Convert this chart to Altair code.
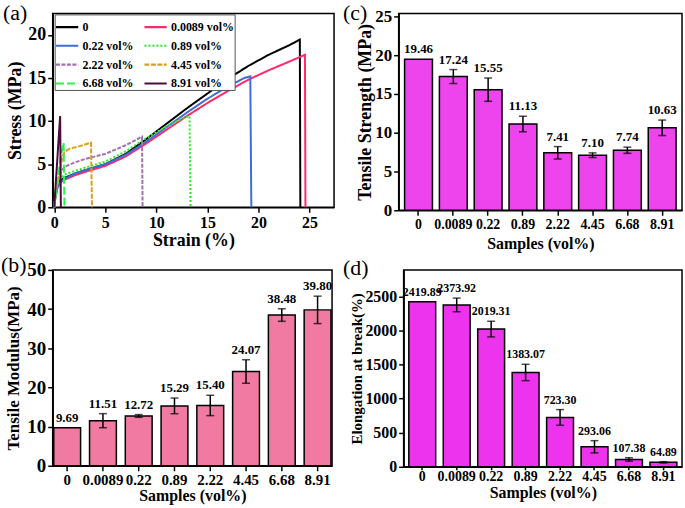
import altair as alt
import pandas as pd

FONT = "Liberation Serif"

# ---------------- (a) stress-strain curves ----------------
series_names = ["0", "0.0089 vol%", "0.22 vol%", "0.89 vol%",
                "2.22 vol%", "4.45 vol%", "6.68 vol%", "8.91 vol%"]
series_colors = ["#000000", "#ff2a6a", "#3b6fd6", "#22ee22",
                 "#a070b0", "#d6a21e", "#33ee55", "#4a0c38"]
series_dash = [[1, 0], [1, 0], [1, 0], [2, 2], [4, 1.5], [5, 1.5], [8, 3], [1, 0]]

strain_0 = [0, 0.1, 0.3, 0.6, 1.0, 2, 3, 5, 7, 9, 11, 13, 15, 17, 19, 21, 23, 24.05, 24.1]
stress_0 = [0, 1.2, 2.5, 3.1, 3.4, 3.9, 4.3, 5.0, 6.2, 7.9, 9.7, 11.5, 13.2, 14.9, 16.4, 17.7, 18.8, 19.46, 0]
strain_1 = [0, 0.1, 0.3, 0.6, 1.0, 2, 3, 5, 7, 9, 11, 13, 15, 17, 19, 21, 23, 24.55, 24.6]
stress_1 = [0, 1.1, 2.3, 2.9, 3.2, 3.7, 4.1, 4.8, 5.9, 7.4, 9.0, 10.6, 12.1, 13.5, 14.8, 15.9, 16.9, 17.7, 0]
strain_2 = [0, 0.1, 0.3, 0.6, 1.0, 2, 3, 5, 7, 9, 11, 13, 15, 17, 18.6, 19.2, 19.3]
stress_2 = [0, 1.0, 2.2, 2.9, 3.3, 3.9, 4.3, 5.0, 6.1, 7.6, 9.3, 11.0, 12.6, 14.0, 15.0, 15.2, 0]
strain_3 = [0, 0.1, 0.3, 0.6, 1.0, 2, 3, 5, 7, 9, 11, 12.5, 13.25, 13.35]
stress_3 = [0, 1.3, 2.6, 3.4, 3.8, 4.2, 4.6, 5.3, 6.5, 8.0, 9.4, 10.3, 10.6, 0]
strain_4 = [0, 0.1, 0.3, 0.6, 1.0, 2, 3, 5, 7, 8.6, 8.65]
stress_4 = [0, 1.5, 3.0, 4.0, 4.7, 5.2, 5.6, 6.2, 7.2, 8.2, 0]
strain_5 = [0, 0.2, 0.5, 0.8, 1.0, 1.5, 2.5, 3.6, 3.7]
stress_5 = [0, 2.0, 4.0, 5.8, 6.4, 6.8, 7.1, 7.5, 0]
strain_6 = [0, 0.2, 0.4, 0.6, 0.8, 0.92, 1.0]
stress_6 = [0, 2.0, 3.8, 5.5, 6.9, 7.5, 0]
strain_7 = [0, 0.15, 0.3, 0.45, 0.58, 0.65]
stress_7 = [0, 2.8, 5.5, 8.3, 10.6, 0]

strains = [strain_0, strain_1, strain_2, strain_3, strain_4, strain_5, strain_6, strain_7]
stresses = [stress_0, stress_1, stress_2, stress_3, stress_4, stress_5, stress_6, stress_7]

# ---------------- bar data ----------------
categories = ["0", "0.0089", "0.22", "0.89", "2.22", "4.45", "6.68", "8.91"]
modulus = [9.69, 11.51, 12.72, 15.29, 15.40, 24.07, 38.48, 39.80]
modulus_err = [0.0, 1.8, 0.35, 2.0, 2.6, 3.0, 1.6, 3.5]
strength = [19.46, 17.24, 15.55, 11.13, 7.41, 7.10, 7.74, 10.63]
strength_err = [0.0, 0.9, 1.5, 1.0, 0.8, 0.3, 0.4, 1.0]
elongation = [2419.89, 2373.92, 2019.31, 1383.07, 723.30, 293.06, 107.38, 64.89]
elongation_err = [0, 100, 115, 120, 115, 90, 25, 10]


def decor(label, lx, ly, L, R, T, B, w, h):
    """Invisible box that fixes the panel's layout bounds + the panel letter."""
    df = pd.DataFrame({"t": [label]})
    box = alt.Chart(df).mark_rule(opacity=0).encode(
        x=alt.value(-L), x2=alt.value(w + R), y=alt.value(-T), y2=alt.value(h + B))
    lab = alt.Chart(df).mark_text(align="left", baseline="top", fontSize=22,
                                  font=FONT, color="black").encode(
        x=alt.value(lx), y=alt.value(ly), text="t:N")
    return [box, lab]


# ---------------- build (a) ----------------
rows = []
for name, xs, ys in zip(series_names, strains, stresses):
    for i, (sx, sy) in enumerate(zip(xs, ys)):
        rows.append({"series": name, "strain": sx, "stress": sy, "idx": i})
line_df = pd.DataFrame(rows)

legend_kw = dict(
    title=None, orient="none", legendX=2, legendY=1, columns=2, direction="horizontal",
    symbolType="stroke", symbolSize=500, symbolStrokeWidth=2.2,
    labelFont=FONT, labelFontWeight="bold", labelFontSize=12, labelColor="black",
    labelLimit=200, rowPadding=-7.5, columnPadding=5, padding=0,
    strokeColor="#555555", fillColor="white", symbolOffset=0, labelOffset=3,
)

W_A, H_A = 283, 195
lines_a = alt.Chart(line_df).mark_line(strokeWidth=2).encode(
    x=alt.X("strain:Q",
            scale=alt.Scale(domain=[-0.15, 27.4], nice=False, zero=False),
            axis=alt.Axis(title="Strain (%)", values=[0, 5, 10, 15, 20, 25],
                          labelFontSize=16, titleFontSize=18, titlePadding=1)),
    y=alt.Y("stress:Q",
            scale=alt.Scale(domain=[0, 22.5], nice=False),
            axis=alt.Axis(title="Stress (MPa)", values=[0, 5, 10, 15, 20],
                          labelFontSize=18, titleFontSize=18, titlePadding=3.5)),
    color=alt.Color("series:N", scale=alt.Scale(domain=series_names, range=series_colors),
                    legend=alt.Legend(**legend_kw)),
    strokeDash=alt.StrokeDash("series:N", scale=alt.Scale(domain=series_names, range=series_dash),
                              legend=alt.Legend(**legend_kw)),
    order="idx:Q",
)
panel_a = alt.layer(lines_a, *decor("(a)", -50, -10, 52, 2, 10, 45, W_A, H_A)).properties(
    width=W_A, height=H_A)


def bar_panel(vals, errs, ytitle, ydom, yvals, fill, w, h, pin, pout,
              ylab, xlab, ytit, xtit, ytp, xtp, vsize, label, box,
              xlabpad=2, xtick=5, yfmt="d"):
    df = pd.DataFrame({"cat": categories, "v": vals, "e": errs})
    base = alt.Chart(df).transform_calculate(lo="datum.v - datum.e", hi="datum.v + datum.e")
    xenc = alt.X("cat:N", sort=categories,
                 scale=alt.Scale(paddingInner=pin, paddingOuter=pout),
                 axis=alt.Axis(title="Samples (vol%)", labelAngle=0, labelFontSize=xlab,
                               titleFontSize=xtit, titlePadding=xtp, labelPadding=xlabpad,
                               tickSize=xtick))
    yscale = alt.Scale(domain=ydom, nice=False)
    yaxis = alt.Axis(title=ytitle, values=yvals, labelFontSize=ylab, format=yfmt,
                     titleFontSize=ytit, titlePadding=ytp)
    bars = base.mark_bar(fill=fill, stroke="black", strokeWidth=1.5).encode(
        x=xenc, y=alt.Y("v:Q", scale=yscale, axis=yaxis, title=ytitle))
    eb = base.transform_filter("datum.e > 0")
    rule = eb.mark_rule(color="black", strokeWidth=1.5).encode(
        x=xenc, y=alt.Y("lo:Q", scale=yscale, axis=yaxis, title=ytitle), y2="hi:Q")
    t_hi = eb.mark_tick(color="black", thickness=1.5, size=8, orient="horizontal").encode(
        x=xenc, y=alt.Y("hi:Q", scale=yscale, axis=yaxis, title=ytitle))
    t_lo = eb.mark_tick(color="black", thickness=1.5, size=8, orient="horizontal").encode(
        x=xenc, y=alt.Y("lo:Q", scale=yscale, axis=yaxis, title=ytitle))
    txt = base.mark_text(baseline="bottom", dy=-3, fontSize=vsize, fontWeight="bold",
                         font=FONT, color="black").encode(
        x=xenc, y=alt.Y("hi:Q", scale=yscale, axis=yaxis, title=ytitle),
        text=alt.Text("v:Q", format=".2f"))
    lx, ly, L, R, T, B = box
    return alt.layer(bars, rule, t_hi, t_lo, txt,
                     *decor(label, lx, ly, L, R, T, B, w, h)).properties(width=w, height=h)


panel_b = bar_panel(modulus, modulus_err, "Tensile Modulus(MPa)", [0, 50], [0, 10, 20, 30, 40, 50],
                    "#f07aa2", 281, 197, 0.25, 0.03, 19, 15, 17, 16, 4, 0, 13, "(b)",
                    (-52, -15, 52, 2, 15, 46))
panel_c = bar_panel(strength, strength_err, "Tensile Strength (MPa)", [0, 25.38], [0, 5, 10, 15, 20, 25],
                    "#ee44ee", 285, 198, 0.2, 0.17, 17, 14, 18, 16, 0, 4.5, 13, "(c)",
                    (-56, -10, 61, 2, 10, 42))
panel_d = bar_panel(elongation, elongation_err, "Elongation at break(%)", [0, 2887],
                    [0, 500, 1000, 1500, 2000, 2500],
                    "#ee33ee", 280, 198, 0.22, 0.15, 16, 14, 15, 16, 0, 1, 12, "(d)",
                    (-61, -12, 68, 2, 15, 45), xlabpad=0, xtick=3)

top = alt.hconcat(panel_a, panel_c, spacing=0)
bottom = alt.hconcat(panel_b, panel_d, spacing=0)

chart = alt.vconcat(top, bottom, spacing=0).properties(
    padding={"left": 0, "top": 0, "right": 0, "bottom": 0}
).configure(background="white").configure_axis(
    domainColor="black", domainWidth=1.5, tickColor="black", tickWidth=1.5, tickSize=5,
    labelColor="black", titleColor="black", labelFont=FONT, titleFont=FONT,
    labelFontWeight="bold", titleFontWeight="bold", grid=False, labelPadding=2,
).configure_view(stroke="black", strokeWidth=1.5)

chart.save("out.html", embed_options={"renderer": "svg", "actions": False})
